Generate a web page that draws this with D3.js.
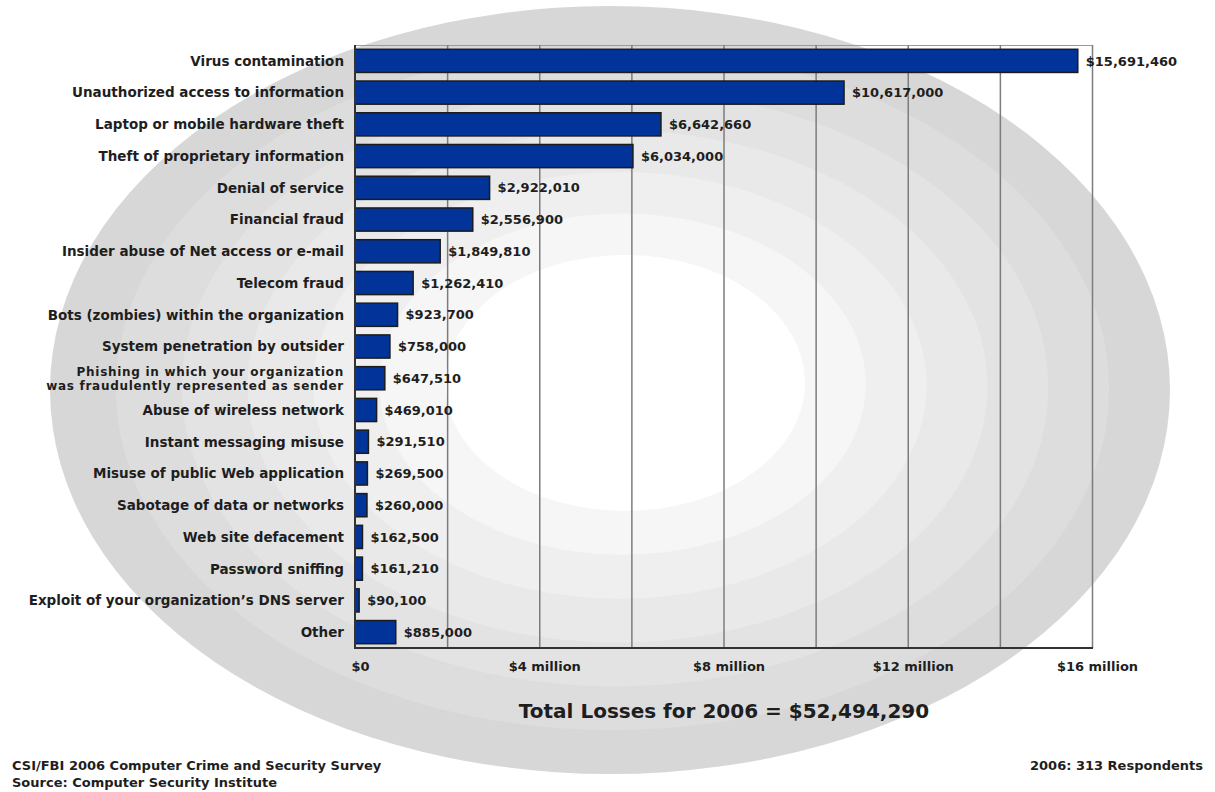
<!DOCTYPE html>
<html>
<head>
<meta charset="utf-8">
<script src="https://cdn.jsdelivr.net/npm/d3@7"></script>
<style>
  body { margin: 0; background: #fff; }
  svg { display: block; }
  text { font-family: "DejaVu Sans", "Liberation Sans", sans-serif; fill: #1e1e1e; }
</style>
</head>
<body>
<svg id="chart" width="1215" height="792"></svg>
<script>
// Dollar losses by type of attack, CSI/FBI 2006 survey
const categories = [
  "Virus contamination",
  "Unauthorized access to information",
  "Laptop or mobile hardware theft",
  "Theft of proprietary information",
  "Denial of service",
  "Financial fraud",
  "Insider abuse of Net access or e-mail",
  "Telecom fraud",
  "Bots (zombies) within the organization",
  "System penetration by outsider",
  "Phishing in which your organization\nwas fraudulently represented as sender",
  "Abuse of wireless network",
  "Instant messaging misuse",
  "Misuse of public Web application",
  "Sabotage of data or networks",
  "Web site defacement",
  "Password sniffing",
  "Exploit of your organization\u2019s DNS server",
  "Other"
];
const losses = [
  15691460, 10617000, 6642660, 6034000, 2922010, 2556900, 1849810,
  1262410, 923700, 758000, 647510, 469010, 291510, 269500, 260000,
  162500, 161210, 90100, 885000
];
const tickValues = [0, 4000000, 8000000, 12000000, 16000000];
const tickLabels = ["$0", "$4 million", "$8 million", "$12 million", "$16 million"];
const gridStep = 2000000;
const surveyYear = 2006;
const respondents = 313;

const rows = categories.map((c, i) => ({ category: c, value: losses[i] }));
const total = d3.sum(losses);
const money = d3.format("$,");

const svg = d3.select("#chart");
const plot = { left: 355, right: 1092, top: 45, bottom: 648 };

const x = d3.scaleLinear().domain([0, 16000000]).range([plot.left, plot.right]);
const y = d3.scaleBand().domain(categories)
  .range([plot.top, plot.bottom])
  .paddingInner(0.27).paddingOuter(0.135);

// Soft concentric backdrop rings
const ringFills = ["#d7d7d7", "#dddddd", "#e3e3e3", "#e9e9e9", "#efefef", "#f6f6f6", "#ffffff"];
const rings = ringFills.map((fill, i) => {
  const t = i / (ringFills.length - 1);
  return { cx: 610 + 15 * t, cy: 390 - 7 * t, rx: 560 - 380 * t, ry: 384 - 256 * t, fill };
});
svg.append("g").selectAll("ellipse").data(rings).join("ellipse")
  .attr("cx", d => d.cx).attr("cy", d => d.cy)
  .attr("rx", d => d.rx).attr("ry", d => d.ry)
  .attr("fill", d => d.fill);

// Top frame line
svg.append("line")
  .attr("x1", plot.left).attr("x2", plot.right)
  .attr("y1", plot.top + 0.5).attr("y2", plot.top + 0.5)
  .attr("stroke", "#9a9a9a").attr("stroke-width", 1.2);

// Vertical gridlines every $2 million
const grid = svg.append("g")
  .attr("transform", `translate(0,${plot.bottom})`)
  .call(d3.axisBottom(x)
    .tickValues(d3.range(gridStep, 16000000 + 1, gridStep))
    .tickSize(-(plot.bottom - plot.top))
    .tickFormat(""));
grid.select(".domain").remove();
grid.selectAll(".tick line").attr("stroke", "#7c7c7c").attr("stroke-width", 1.5);

// Bars
svg.append("g").selectAll("rect").data(rows).join("rect")
  .attr("x", x(0))
  .attr("y", d => y(d.category))
  .attr("width", d => x(d.value) - x(0))
  .attr("height", y.bandwidth())
  .attr("fill", "#023399")
  .attr("stroke", "#1c1c1c")
  .attr("stroke-width", 1.5);

// Axis lines
svg.append("line")
  .attr("x1", plot.left).attr("x2", plot.left)
  .attr("y1", plot.top).attr("y2", plot.bottom)
  .attr("stroke", "#333").attr("stroke-width", 2);
svg.append("line")
  .attr("x1", plot.left - 1).attr("x2", plot.right + 1)
  .attr("y1", plot.bottom).attr("y2", plot.bottom)
  .attr("stroke", "#333").attr("stroke-width", 2);

// Value labels
svg.append("g").selectAll("text").data(rows).join("text")
  .attr("x", d => x(d.value) + 8)
  .attr("y", d => y(d.category) + y.bandwidth() / 2)
  .attr("dy", "0.36em")
  .attr("font-size", 13)
  .attr("font-weight", "bold")
  .text(d => money(d.value));

// Category labels; two-line labels are set a little smaller and tracked out
const lineGap = 14;
const catLabels = svg.append("g").selectAll("text").data(rows).join("text")
  .attr("x", plot.left - 11)
  .attr("y", d => y(d.category) + y.bandwidth() / 2)
  .attr("text-anchor", "end")
  .attr("font-weight", "bold");
catLabels.each(function (d) {
  const lines = d.category.split("\n");
  const multi = lines.length > 1;
  const sel = d3.select(this)
    .attr("font-size", multi ? 12 : 13.5)
    .attr("letter-spacing", multi ? 0.7 : 0);
  const cy = y(d.category) + y.bandwidth() / 2;
  lines.forEach((line, i) => {
    sel.append("tspan")
      .attr("x", plot.left - 11)
      .attr("y", cy + (i - (lines.length - 1) / 2) * lineGap)
      .attr("dy", "0.36em")
      .text(line);
  });
});

// Bottom axis labels
const xAxis = svg.append("g")
  .attr("transform", `translate(5,${plot.bottom})`)
  .call(d3.axisBottom(x)
    .tickValues(tickValues)
    .tickFormat((d, i) => tickLabels[i])
    .tickSize(0)
    .tickPadding(14));
xAxis.select(".domain").remove();
xAxis.selectAll("text")
  .attr("font-size", 13)
  .attr("font-weight", "bold")
  .attr("font-family", "DejaVu Sans, sans-serif")
  .attr("fill", "#1e1e1e");

// Total line
svg.append("text")
  .attr("x", 724).attr("y", 718)
  .attr("text-anchor", "middle")
  .attr("font-size", 20)
  .attr("font-weight", "bold")
  .text(`Total Losses for ${surveyYear} = ${money(total)}`);

// Footer
svg.append("text")
  .attr("x", 12).attr("y", 770)
  .attr("font-size", 13).attr("font-weight", "bold")
  .text(`CSI/FBI ${surveyYear} Computer Crime and Security Survey`);
svg.append("text")
  .attr("x", 12).attr("y", 787)
  .attr("font-size", 13).attr("font-weight", "bold")
  .text("Source: Computer Security Institute");
svg.append("text")
  .attr("x", 1203).attr("y", 770)
  .attr("text-anchor", "end")
  .attr("font-size", 13).attr("font-weight", "bold")
  .text(`${surveyYear}: ${respondents} Respondents`);
</script>
</body>
</html>
